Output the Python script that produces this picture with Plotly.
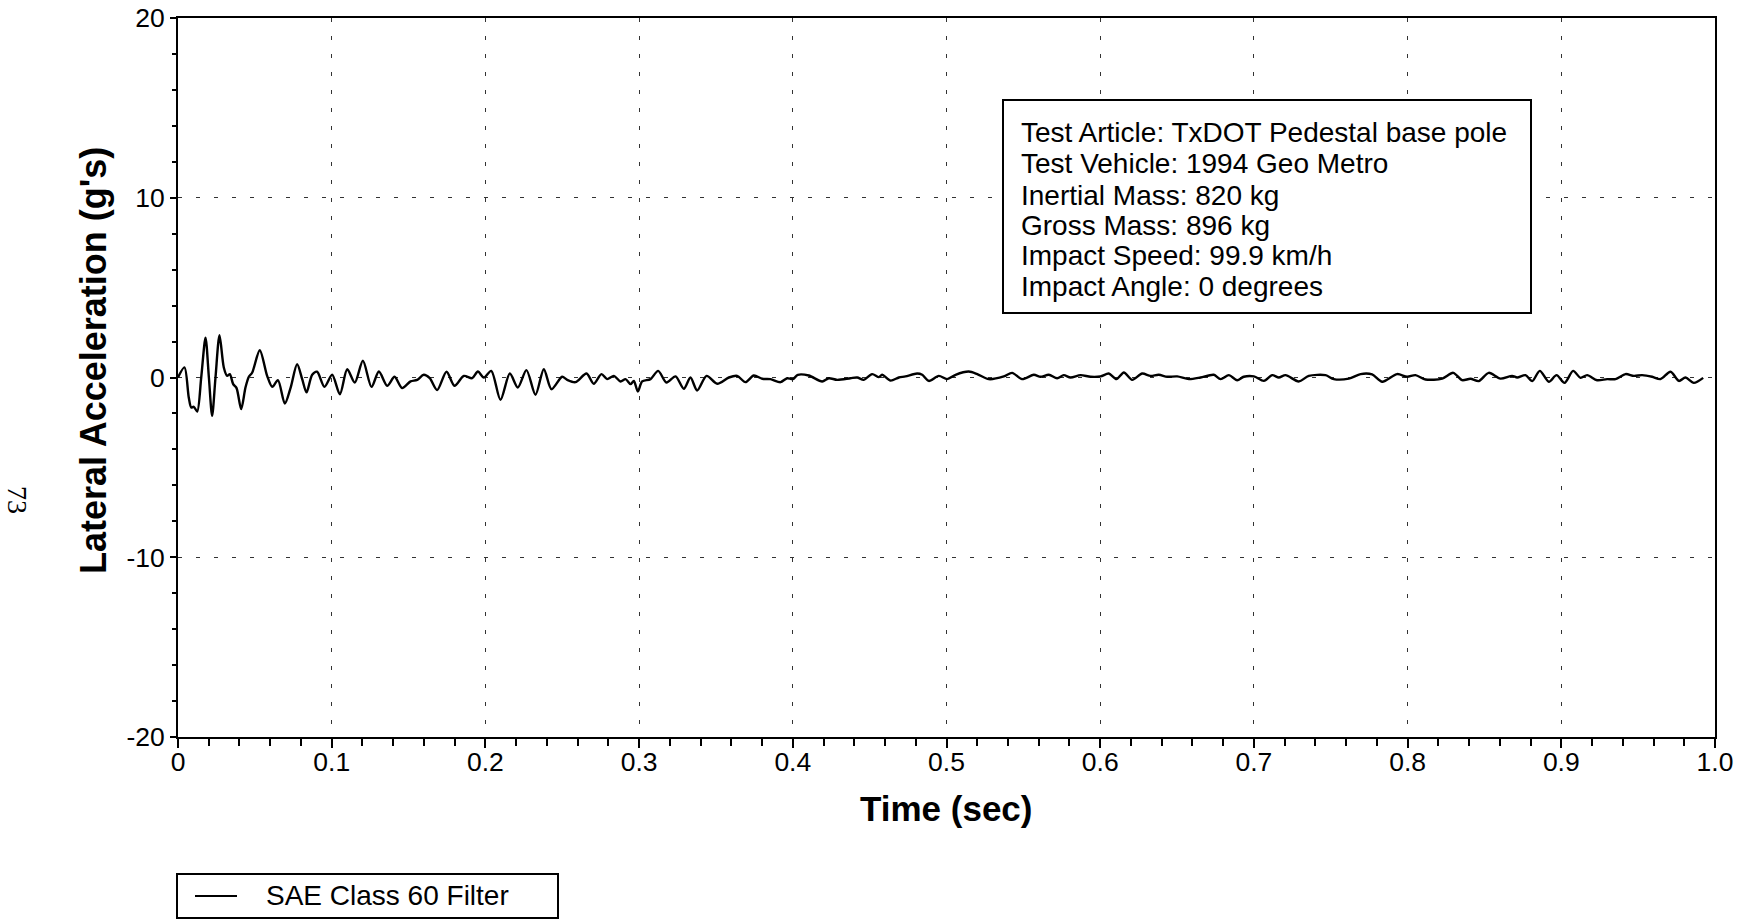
import plotly.graph_objects as go

# ---- data: time (s) and lateral acceleration (g's), SAE Class 60 filter ----
time_s = [
    0.0000, 0.0042, 0.0070, 0.0086, 0.0103, 0.0125, 0.0151, 0.0179, 0.0201, 0.0222,
    0.0244, 0.0270, 0.0298, 0.0320, 0.0337, 0.0359, 0.0381, 0.0411, 0.0439, 0.0461,
    0.0483, 0.0532, 0.0580, 0.0613, 0.0650, 0.0695, 0.0732, 0.0775, 0.0808, 0.0836,
    0.0873, 0.0905, 0.0953, 0.1003, 0.1053, 0.1101, 0.1150, 0.1203, 0.1259, 0.1307,
    0.1361, 0.1409, 0.1458, 0.1513, 0.1556, 0.1599, 0.1638, 0.1686, 0.1747, 0.1799,
    0.1860, 0.1914, 0.1951, 0.1990, 0.2038, 0.2098, 0.2159, 0.2211, 0.2267, 0.2326,
    0.2380, 0.2430, 0.2499, 0.2532, 0.2586, 0.2658, 0.2705, 0.2755, 0.2792, 0.2836,
    0.2879, 0.2912, 0.2944, 0.2966, 0.2992, 0.3020, 0.3074, 0.3124, 0.3178, 0.3237,
    0.3291, 0.3334, 0.3378, 0.3439, 0.3508, 0.3584, 0.3638, 0.3692, 0.3746, 0.3801,
    0.3855, 0.3920, 0.3963, 0.4000, 0.4033, 0.4104, 0.4191, 0.4234, 0.4289, 0.4375,
    0.4419, 0.4462, 0.4516, 0.4560, 0.4581, 0.4636, 0.4690, 0.4733, 0.4809, 0.4842,
    0.4885, 0.4950, 0.5004, 0.5059, 0.5145, 0.5200, 0.5275, 0.5373, 0.5427, 0.5492,
    0.5568, 0.5612, 0.5666, 0.5720, 0.5763, 0.5807, 0.5872, 0.5937, 0.6002, 0.6056,
    0.6106, 0.6154, 0.6208, 0.6273, 0.6327, 0.6381, 0.6436, 0.6501, 0.6577, 0.6653,
    0.6739, 0.6783, 0.6837, 0.6891, 0.6934, 0.7000, 0.7065, 0.7119, 0.7162, 0.7206,
    0.7292, 0.7357, 0.7466, 0.7520, 0.7618, 0.7694, 0.7769, 0.7835, 0.7932, 0.7997,
    0.8051, 0.8117, 0.8225, 0.8297, 0.8355, 0.8409, 0.8463, 0.8528, 0.8604, 0.8680,
    0.8713, 0.8767, 0.8811, 0.8860, 0.8919, 0.8969, 0.9021, 0.9077, 0.9125, 0.9168,
    0.9233, 0.9298, 0.9353, 0.9418, 0.9472, 0.9526, 0.9591, 0.9645, 0.9711, 0.9765,
    0.9808, 0.9862, 0.9923,
]
lateral_g = [
    0.00, 0.56, -1.11, -1.67, -1.63, -1.89, 0.00, 2.22, 0.00, -2.13,
    0.00, 2.35, 0.56, 0.09, 0.19, -0.37, -0.59, -1.76, -0.56, 0.04,
    0.28, 1.52, 0.09, -0.52, -0.15, -1.45, -0.59, 0.74, -0.09, -0.83,
    0.15, 0.32, -0.52, 0.15, -0.93, 0.46, -0.28, 0.93, -0.52, 0.33,
    -0.46, 0.04, -0.59, -0.22, -0.13, 0.15, -0.04, -0.70, 0.32, -0.46,
    0.09, -0.04, 0.33, 0.00, 0.37, -1.24, 0.22, -0.56, 0.41, -0.96,
    0.46, -0.65, 0.04, -0.13, -0.26, 0.22, -0.35, 0.19, -0.09, 0.09,
    -0.22, -0.09, -0.37, -0.19, -0.78, -0.22, -0.09, 0.37, -0.28, 0.06,
    -0.63, 0.00, -0.72, 0.09, -0.35, 0.00, 0.09, -0.26, 0.11, -0.07,
    -0.09, -0.26, -0.04, -0.09, 0.15, 0.11, -0.22, -0.04, -0.13, -0.04,
    0.00, -0.13, 0.19, 0.02, 0.15, -0.17, 0.00, 0.06, 0.22, 0.15,
    -0.19, 0.09, -0.09, 0.15, 0.33, 0.19, -0.09, 0.06, 0.26, -0.09,
    0.15, 0.04, 0.15, -0.04, 0.13, 0.00, 0.13, 0.04, 0.06, 0.22,
    -0.09, 0.28, -0.13, 0.22, 0.09, 0.15, 0.04, 0.06, -0.09, 0.00,
    0.15, -0.09, 0.13, -0.15, 0.04, 0.06, -0.19, 0.13, 0.00, 0.13,
    -0.22, 0.09, 0.13, -0.09, -0.06, 0.19, 0.17, -0.24, 0.19, 0.04,
    0.13, -0.11, -0.06, 0.26, -0.15, -0.07, -0.20, 0.26, -0.06, 0.09,
    0.00, 0.13, -0.20, 0.37, -0.24, 0.13, -0.30, 0.37, -0.02, 0.13,
    -0.15, -0.09, -0.09, 0.19, 0.09, 0.13, 0.04, -0.09, 0.32, -0.19,
    0.00, -0.30, -0.02,
]

x_tickvals = [0, 0.1, 0.2, 0.3, 0.4, 0.5, 0.6, 0.7, 0.8, 0.9, 1.0]
x_ticktext = ["0", "0.1", "0.2", "0.3", "0.4", "0.5", "0.6", "0.7", "0.8", "0.9", "1.0"]
y_tickvals = [-20, -10, 0, 10, 20]
y_ticktext = ["-20", "-10", "0", "10", "20"]

series_name = "SAE Class 60 Filter"
info_lines = [
    "Test Article: TxDOT Pedestal base pole",
    "Test Vehicle: 1994 Geo Metro",
    "Inertial Mass: 820 kg",
    "Gross Mass: 896 kg",
    "Impact Speed: 99.9 km/h",
    "Impact Angle: 0 degrees",
]

FONT = "'Liberation Sans', Arial, sans-serif"
W, H = 1748, 919
OFF = 0  # body margin removed via post_script
# plot area in page pixels
PX0, PX1, PY0, PY1 = 178, 1715, 18, 737
L = PX0 - OFF
T = PY0 - OFF
R = W - (PX1 - OFF)
B = H - (PY1 - OFF)
PW, PH = PX1 - PX0, PY1 - PY0


def px_x(page_x):
    return (page_x - PX0) / PW


def px_y(page_y):
    return (PY1 - page_y) / PH


fig = go.Figure()
fig.add_trace(go.Scatter(
    x=time_s, y=lateral_g, mode="lines", name=series_name, showlegend=False,
    line=dict(color="black", width=2.4, shape="spline", smoothing=0.8),
))

axis_common = dict(
    showline=True, linecolor="black", linewidth=2, mirror=True,
    ticks="outside", tickcolor="black", tickwidth=1.5,
    showgrid=True, gridcolor="#333333", gridwidth=1, griddash="4px,14px",
    zeroline=False, tickfont=dict(family=FONT, size=26.5, color="black"),
    ticklabeloverflow="allow",
)

fig.update_xaxes(
    range=[0, 1.0], tickmode="array", tickvals=x_tickvals, ticktext=x_ticktext,
    ticklen=9, ticklabelstandoff=-9,
    minor=dict(tickmode="linear", tick0=0, dtick=0.02, ticks="outside", ticklen=7,
               tickcolor="black", tickwidth=1.5, showgrid=False),
    **axis_common,
)
fig.update_yaxes(
    range=[-20, 20], tickmode="array", tickvals=y_tickvals, ticktext=y_ticktext,
    ticklen=6,
    minor=dict(tickmode="linear", tick0=0, dtick=2, ticks="outside", ticklen=4,
               tickcolor="black", tickwidth=1.5, showgrid=False),
    **axis_common,
)

# info box
fig.add_shape(type="rect", xref="paper", yref="paper",
              x0=px_x(1003), x1=px_x(1531), y0=px_y(313), y1=px_y(100),
              line=dict(color="black", width=2), fillcolor="white", layer="above")
line_centers = [132.7, 163.9, 195.1, 225.2, 255.3, 286.5]
for txt, yc in zip(info_lines, line_centers):
    fig.add_annotation(x=px_x(1019), y=px_y(yc), xref="paper", yref="paper",
                       text=txt, showarrow=False, xanchor="left", yanchor="middle",
                       font=dict(family=FONT, size=28, color="black"))

# legend (drawn as a framed key below the plot)
fig.add_shape(type="rect", xref="paper", yref="paper",
              x0=px_x(177), x1=px_x(558), y0=px_y(918), y1=px_y(874),
              line=dict(color="black", width=2), fillcolor="white")
fig.add_shape(type="line", xref="paper", yref="paper",
              x0=px_x(195), x1=px_x(237), y0=px_y(896), y1=px_y(896),
              line=dict(color="black", width=2))
fig.add_annotation(x=px_x(264), y=px_y(896), xref="paper", yref="paper",
                   text=series_name, showarrow=False, xanchor="left", yanchor="middle",
                   font=dict(family=FONT, size=28, color="black"))

# axis titles
fig.add_annotation(x=px_x(946.5), y=px_y(808), xref="paper", yref="paper",
                   text="<b>Time (sec)</b>", showarrow=False,
                   xanchor="center", yanchor="middle",
                   font=dict(family=FONT, size=35, color="black"))
fig.add_annotation(x=px_x(93), y=px_y(361), xref="paper", yref="paper",
                   text="<b>Lateral Acceleration (g's)</b>", showarrow=False,
                   textangle=-90, xanchor="center", yanchor="middle",
                   font=dict(family=FONT, size=36, color="black"))
# page number
fig.add_annotation(x=px_x(18), y=px_y(500), xref="paper", yref="paper",
                   text="73", showarrow=False, textangle=90,
                   xanchor="center", yanchor="middle",
                   font=dict(family="'Liberation Serif', 'Times New Roman', serif",
                             size=28, color="black"))

fig.update_layout(
    width=W, height=H,
    margin=dict(l=L, r=R, t=T, b=B, pad=0, autoexpand=False),
    plot_bgcolor="white", paper_bgcolor="white",
    showlegend=False,
)

fig.write_html("out.html", config={"displayModeBar": False},
               post_script="document.body.style.margin='0';")
